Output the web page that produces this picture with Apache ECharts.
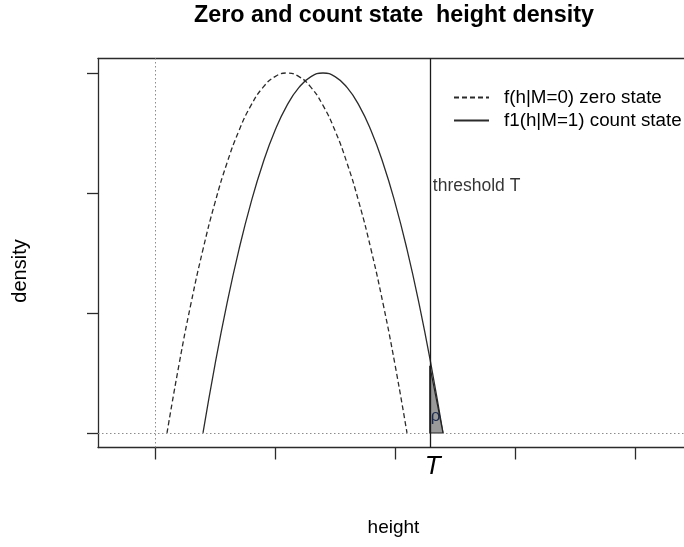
<!DOCTYPE html>
<html>
<head>
<meta charset="utf-8">
<script src="https://cdn.jsdelivr.net/npm/echarts@6/dist/echarts.min.js"></script>
<style>
  html, body { margin: 0; padding: 0; background: #ffffff; }
  #chart { width: 684px; height: 547px; }
</style>
</head>
<body>
<div id="chart"></div>
<script>
// Texts
const titleText = 'Zero and count state  height density';
const xName = 'height';
const yName = 'density';
const legendNames = ['f(h|M=0) zero state', 'f1(h|M=1) count state'];
const thresholdText = 'threshold T';
const tailText = 'ρ';
const thresholdTick = 'T';

// Threshold height
const threshold = 2.29;

// Zero-state density f(h|M=0)
const heightZero  = [0.1, 0.2, 0.3, 0.4, 0.5, 0.6, 0.7, 0.8, 0.9, 1.0, 1.1, 1.2, 1.3, 1.4, 1.5, 1.6, 1.7, 1.8, 1.9, 2.0, 2.1];
const densityZero = [0, 0.57, 1.08, 1.53, 1.92, 2.25, 2.52, 2.73, 2.88, 2.97, 3.0, 2.97, 2.88, 2.73, 2.52, 2.25, 1.92, 1.53, 1.08, 0.57, 0];

// Count-state density f1(h|M=1)
const heightCount  = [0.4, 0.5, 0.6, 0.7, 0.8, 0.9, 1.0, 1.1, 1.2, 1.3, 1.4, 1.5, 1.6, 1.7, 1.8, 1.9, 2.0, 2.1, 2.2, 2.3, 2.4];
const densityCount = [0, 0.57, 1.08, 1.53, 1.92, 2.25, 2.52, 2.73, 2.88, 2.97, 3.0, 2.97, 2.88, 2.73, 2.52, 2.25, 1.92, 1.53, 1.08, 0.57, 0];

// Shaded tail beyond the threshold
const tailHeight  = [2.29, 2.29, 2.4];
const tailDensity = [0, 0.56, 0];

// Label anchors (height, density)
const thresholdLabelAt = [2.29, 2.06];
const tailLabelAt = [2.298, 0.14];

// Axis ticks and ranges (the plot frame runs on past the right edge)
const xTicks = [0, 1, 2, 3, 4];
const yTicks = [0, 1, 2, 3];
const xRange = [-0.475, 4.4083];
const yRange = [-0.121, 3.1225];

const FONT = '"Liberation Sans", Arial, Helvetica, sans-serif';
const INK = '#2b2b2b';

const zip = (xs, ys) => xs.map((x, i) => [x, ys[i]]);

const chart = echarts.init(document.getElementById('chart'), null, { renderer: 'canvas' });

const frameLine = { show: true, onZero: false, lineStyle: { color: INK, width: 1.3 } };

chart.setOption({
  animation: false,
  backgroundColor: '#ffffff',
  title: {
    text: titleText,
    left: 189,
    top: -1,
    textStyle: { fontFamily: FONT, fontWeight: 'bold', fontSize: 23.3, color: '#000' }
  },
  legend: {
    orient: 'vertical',
    left: 453,
    top: 88,
    padding: 0,
    itemWidth: 35,
    itemHeight: 14,
    itemGap: 4,
    selectedMode: false,
    data: legendNames,
    itemStyle: { opacity: 0 },
    textStyle: { fontFamily: FONT, fontSize: 18.8, color: '#000', padding: [0, 0, 0, 10], lineHeight: 18 }
  },
  grid: {
    left: 98,
    top: 58.3,
    right: 0,
    bottom: 99.5,
    show: false
  },
  xAxis: [
    {
      type: 'value',
      position: 'bottom',
      min: xRange[0],
      max: xRange[1],
      name: xName,
      nameLocation: 'middle',
      nameGap: 71,
      nameTextStyle: { fontFamily: FONT, fontSize: 19, color: '#000', padding: [0, 0, 0, 5] },
      splitLine: { show: false },
      axisLine: frameLine,
      axisTick: {
        show: true,
        inside: false,
        length: 12,
        customValues: xTicks,
        lineStyle: { color: INK, width: 1.3 }
      },
      axisLabel: {
        show: true,
        customValues: [threshold],
        formatter: () => thresholdTick,
        margin: 6,
        padding: [0, 0, 0, 6],
        fontFamily: FONT,
        fontSize: 26,
        fontStyle: 'italic',
        color: '#000'
      }
    },
    {
      // top edge of the frame
      type: 'value',
      position: 'top',
      min: xRange[0],
      max: xRange[1],
      splitLine: { show: false },
      axisLine: frameLine,
      axisTick: { show: false },
      axisLabel: { show: false }
    }
  ],
  yAxis: {
    type: 'value',
    min: yRange[0],
    max: yRange[1],
    splitLine: { show: false },
    axisLine: frameLine,
    axisTick: {
      show: true,
      inside: false,
      length: 11,
      customValues: yTicks,
      lineStyle: { color: INK, width: 1.3 }
    },
    axisLabel: { show: false }
  },
  graphic: [{
    type: 'text',
    x: 20,
    y: 271,
    rotation: Math.PI / 2,
    style: {
      text: yName,
      fontFamily: FONT,
      fontSize: 20,
      fill: '#000',
      textAlign: 'center',
      textVerticalAlign: 'middle'
    }
  }],
  series: [
    {
      name: legendNames[0],
      type: 'line',
      data: zip(heightZero, densityZero),
      smooth: 0.5,
      symbol: 'none',
      showSymbol: false,
      z: 3,
      lineStyle: { color: INK, width: 1.3, type: [5, 3] },
      itemStyle: { color: INK },
      markLine: {
        silent: true,
        symbol: 'none',
        label: { show: false },
        lineStyle: { color: '#8c8c8c', width: 1, type: [1.5, 2.5] },
        data: [{ xAxis: 0 }, { yAxis: 0 }]
      }
    },
    {
      name: legendNames[1],
      type: 'line',
      data: zip(heightCount, densityCount),
      smooth: 0.5,
      symbol: 'none',
      showSymbol: false,
      z: 3,
      lineStyle: { color: INK, width: 1.3, type: 'solid' },
      itemStyle: { color: INK }
    },
    {
      // shaded tail area with its ρ label
      type: 'custom',
      silent: true,
      z: 4,
      data: [0],
      renderItem: (params, api) => {
        const at = api.coord(tailLabelAt);
        return {
          type: 'group',
          children: [
            {
              type: 'polygon',
              shape: { points: tailHeight.map((h, i) => api.coord([h, tailDensity[i]])) },
              style: { fill: '#9a9a9a', stroke: '#222', lineWidth: 1.2 }
            },
            {
              type: 'text',
              x: at[0],
              y: at[1],
              style: {
                text: tailText,
                fontFamily: FONT,
                fontSize: 17,
                fill: '#1c2a4d',
                textAlign: 'left',
                textVerticalAlign: 'middle'
              }
            }
          ]
        };
      },
      markLine: {
        silent: true,
        symbol: 'none',
        label: { show: false },
        lineStyle: { color: '#1a1a1a', width: 1.3, type: 'solid' },
        data: [{ xAxis: threshold }]
      }
    },
    {
      type: 'scatter',
      silent: true,
      symbolSize: 0,
      z: 6,
      data: [
        {
          value: thresholdLabelAt,
          label: {
            show: true, position: 'right', distance: 3,
            formatter: thresholdText,
            fontFamily: FONT, fontSize: 17.5, color: '#000'
          }
        }
      ]
    }
  ]
});
</script>
</body>
</html>
